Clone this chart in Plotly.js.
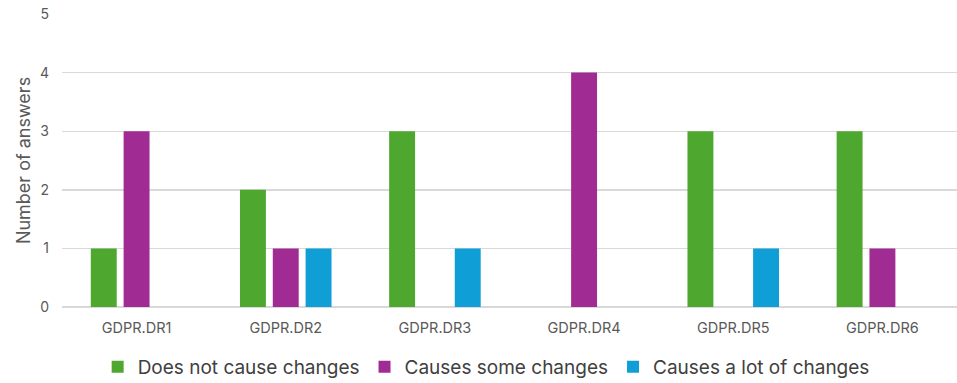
<!DOCTYPE html>
<html>
<head>
<meta charset="utf-8">
<script src="https://cdn.plot.ly/plotly-3.0.1.min.js"></script>
<style>html,body{margin:0;padding:0;background:#fff;}#chart{width:957px;height:383px;}</style>
</head>
<body>
<div id="chart"></div>
<script>
const categories = ["GDPR.DR1", "GDPR.DR2", "GDPR.DR3", "GDPR.DR4", "GDPR.DR5", "GDPR.DR6"];
const seriesNames = ["Does not cause changes", "Causes some changes", "Causes a lot of changes"];
const doesNotCause = [1, 2, 3, 0, 3, 3];
const causesSome = [3, 1, 0, 4, 0, 1];
const causesALot = [0, 1, 1, 0, 1, 0];
const colors = ["#4EA72E", "#A02B93", "#0F9ED5"];

const values = [doesNotCause, causesSome, causesALot];
const traces = values.map((v, i) => ({
  type: "bar",
  name: seriesNames[i],
  x: categories,
  y: v,
  marker: {color: colors[i]},
  hoverinfo: "x+y+name"
}));

const font = "Inter, 'Noto Sans', 'Liberation Sans', sans-serif";
const layout = {
  width: 957, height: 383,
  margin: {l: 62, r: 0, t: 14, b: 75.5},
  paper_bgcolor: "#fff", plot_bgcolor: "#fff",
  barmode: "group",
  bargap: 0.34,
  bargroupgap: 0.21,
  font: {family: font, color: "#595959"},
  xaxis: {
    showgrid: false, zeroline: false, showline: false,
    ticks: "", tickfont: {size: 14.5, color: "#595959"},
    ticklabelstandoff: 10
  },
  yaxis: {
    range: [0, 5], dtick: 1, tick0: 0,
    showgrid: true, gridcolor: "#D9D9D9", gridwidth: 1.4,
    zeroline: true, zerolinecolor: "#D9D9D9", zerolinewidth: 1.4,
    showline: false, ticks: "",
    tickfont: {size: 14, color: "#595959"},
    ticklabelstandoff: 12,
    title: {text: "Number of answers", font: {size: 18, color: "#595959"}, standoff: 4}
  },
  showlegend: true,
  legend: {
    orientation: "h",
    xref: "container", yref: "container",
    x: 0.508, xanchor: "center",
    y: 0.042, yanchor: "middle",
    font: {size: 19, color: "#404040"},
    itemwidth: 30,
    traceorder: "normal"
  }
};

Plotly.newPlot("chart", traces, layout, {displayModeBar: false, staticPlot: true});
</script>
</body>
</html>
